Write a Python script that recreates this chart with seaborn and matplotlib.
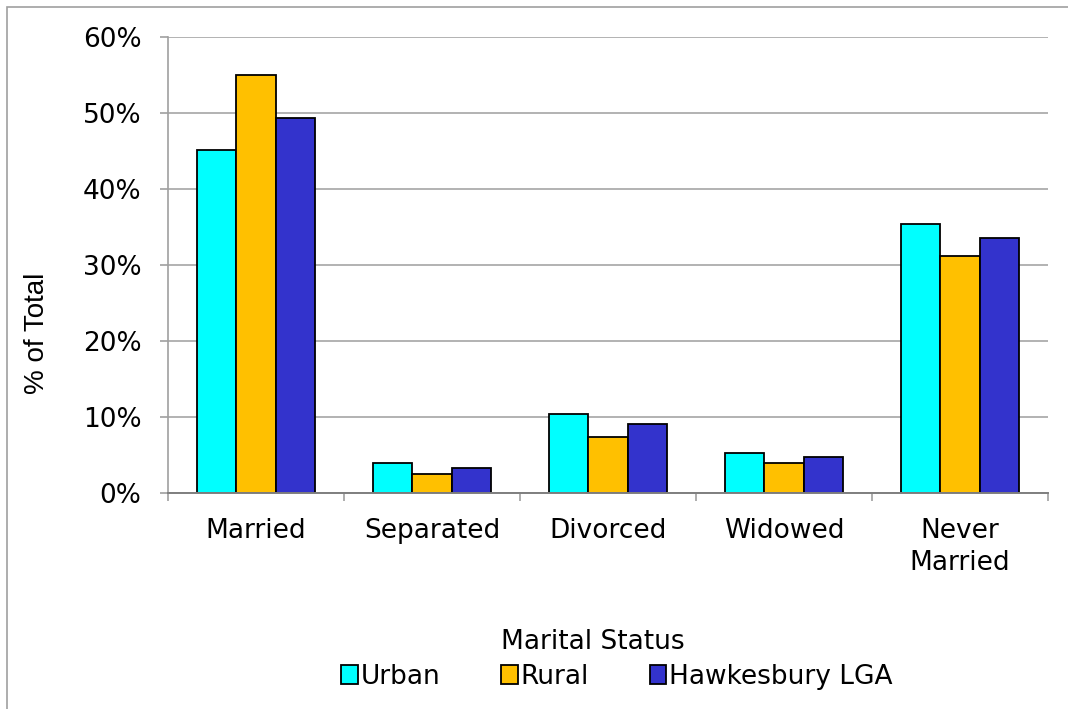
import numpy as np
import pandas as pd
import matplotlib
matplotlib.use("Agg")
import matplotlib.pyplot as plt
from matplotlib.patches import Rectangle
from matplotlib.ticker import FixedLocator, FuncFormatter
import seaborn as sns

# Share of persons by marital status (% of total)
categories = ["Married", "Separated", "Divorced", "Widowed", "Never\nMarried"]
series_names = ["Urban", "Rural", "Hawkesbury LGA"]
urban = [45.1, 3.9, 10.45, 5.2, 35.4]
rural = [55.0, 2.5, 7.4, 3.95, 31.2]
hawkesbury = [49.3, 3.25, 9.1, 4.7, 33.6]
y_ticks = [0, 10, 20, 30, 40, 50, 60]

colors = ["#00FFFF", "#FFC000", "#3333CC"]

df = pd.DataFrame({
    "Marital Status": categories * 3,
    "Series": sum([[s] * len(categories) for s in series_names], []),
    "Percent": urban + rural + hawkesbury,
})

sns.set_theme(style="white")
plt.rcParams["font.family"] = ["DejaVu Sans"]
plt.rcParams["text.color"] = "black"
plt.rcParams["xtick.color"] = "black"
plt.rcParams["ytick.color"] = "black"
plt.rcParams["xtick.labelcolor"] = "black"
plt.rcParams["ytick.labelcolor"] = "black"

W, H = 1068, 709
FS = 19
fig = plt.figure(figsize=(W / 100, H / 100), dpi=100)
ax = fig.add_axes([168 / W, 1 - 493 / H, (1048 - 168) / W, (493 - 37) / H])

sns.barplot(
    data=df, x="Marital Status", y="Percent", hue="Series",
    order=categories, hue_order=series_names, palette=colors,
    saturation=1, width=0.675, gap=0, edgecolor="black", linewidth=1.3,
    legend=False, ax=ax, zorder=3,
)

ax.set_xlim(-0.5, len(categories) - 0.5)
ax.set_ylim(0, 60)
ax.yaxis.set_major_locator(FixedLocator(y_ticks))
ax.yaxis.set_major_formatter(FuncFormatter(lambda v, p: f"{v:.0f}%"))
ax.grid(axis="y", color="#A6A6A6", linewidth=1.2, zorder=0)
ax.grid(axis="x", visible=False)
ax.set_axisbelow(True)

for s in ["top", "right"]:
    ax.spines[s].set_visible(False)
ax.spines["left"].set_color("#A0A0A0")
ax.spines["left"].set_linewidth(1.2)
ax.spines["bottom"].set_color("#7F7F7F")
ax.spines["bottom"].set_linewidth(1.4)
ax.spines["bottom"].set_zorder(4)

ax.tick_params(axis="y", which="major", direction="out", length=6, width=1.2,
               color="#A0A0A0", left=True, labelsize=FS, pad=13)
ax.set_xticks(range(len(categories)))
ax.set_xticklabels(categories, fontsize=FS, linespacing=1.3)
ax.tick_params(axis="x", which="major", length=0, pad=18)
ax.set_xticks(np.arange(-0.5, len(categories), 1.0), minor=True)
ax.tick_params(axis="x", which="minor", direction="out", length=6, width=1.2,
               color="#A0A0A0", bottom=True)

ax.set_xlabel("")
ax.set_ylabel("")

fig.text(37 / W, 1 - 333 / H, "% of Total", rotation=90, fontsize=20,
         family="Liberation Sans", ha="center", va="center")
fig.text(593 / W, 1 - 642 / H, "Marital Status", fontsize=FS,
         ha="center", va="center")

handles = [Rectangle((0, 0), 1, 1, facecolor=c, edgecolor="black", linewidth=1.3)
           for c in colors]
fig.legend(handles, series_names, loc="center", ncol=3, frameon=False,
           bbox_to_anchor=(617 / W, 1 - 677 / H), fontsize=FS,
           handlelength=0.62, handleheight=0.75, handletextpad=0.12,
           columnspacing=2.3, borderaxespad=0)

# Chart frame
fig.patches.append(Rectangle((7 / W, -0.1), 1.2, 1 - 7 / H + 0.1,
                             transform=fig.transFigure, fill=False,
                             edgecolor="#A0A0A0", linewidth=1.2))

fig.savefig("out.png", dpi=100)
